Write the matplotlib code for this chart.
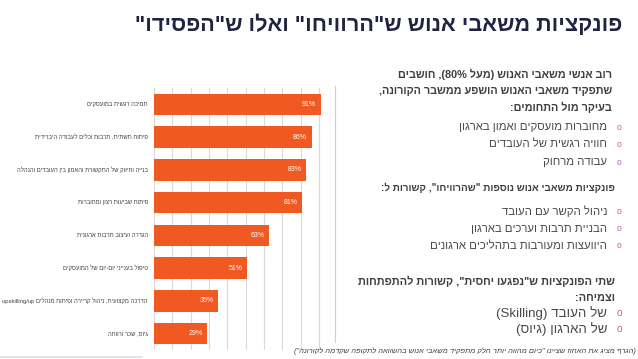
import re
import matplotlib
matplotlib.use("Agg")
import matplotlib.pyplot as plt
from matplotlib.lines import Line2D

plt.rcParams['font.family'] = ['Liberation Sans', 'DejaVu Sans']

# ---------------- data ----------------
categories = [
    "תמיכה רגשית במועסקים",
    "פיתוח תשתית, תרבות וכלים לעבודה היברידית",
    "בנייה וחיזוק של התקשורת והאמון בין העובדים והנהלה",
    "פיתוח שביעות רצון ומחוברות",
    "הגדרה ועיצוב תרבות ארגונית",
    "טיפול בענייני יום-יום של המועסקים",
    "הדרכה מקצועית, ניהול קריירה ופיתוח מנהלים upskilling/up",
    "גיוס, שכר ורווחה",
]
values = [91, 86, 83, 81, 63, 51, 35, 29]
value_labels = ["91%", "86%", "83%", "81%", "63%", "51%", "35%", "29%"]

title = 'פונקציות משאבי אנוש ש"הרוויחו" ואלו ש"הפסידו"'
sec1_header = [
    "רוב אנשי משאבי האנוש (מעל 80%), חושבים",
    "שתפקיד משאבי האנוש הושפע ממשבר הקורונה,",
    "בעיקר מול התחומים:",
]
sec1_bullets = ["מחוברות מועסקים ואמון בארגון", "חוויה רגשית של העובדים", "עבודה מרחוק"]
sec2_header = ['פונקציות משאבי אנוש נוספות "שהרוויחו", קשורות ל:']
sec2_bullets = ["ניהול הקשר עם העובד", "הבניית תרבות וערכים בארגון", "היוועצות ומעורבות בתהליכים ארגונים"]
sec3_header = ['שתי הפונקציות ש"נפגעו יחסית", קשורות להתפתחות', "וצמיחה:"]
sec3_bullets = ["של העובד (Skilling)", "של הארגון (גיוס)"]
footnote = '(הגרף מציג את האחוז שציינו "כיום מהווה יותר חלק מתפקיד משאבי אנוש בהשוואה לתקופה שקדמה לקורונה")'

# ------------- simple bidi (visual order for RTL base) -------------
MIRROR = str.maketrans('()[]{}<>', ')(][}{><')
LTR = re.compile(r'[A-Za-z0-9][A-Za-z0-9%/\.]*(?: [A-Za-z0-9][A-Za-z0-9%/\.]*)*')


def vis(s):
    out = []
    pos = 0
    for m in LTR.finditer(s):
        out.append(s[pos:m.start()][::-1].translate(MIRROR))
        out.append(m.group())
        pos = m.end()
    out.append(s[pos:][::-1].translate(MIRROR))
    return ''.join(reversed(out))


W, H = 638, 359
fig = plt.figure(figsize=(W / 100, H / 100), dpi=100)
fig.patch.set_facecolor('white')


def fx(x):
    return x / W


def fy(y):
    return 1 - y / H


# ---------------- chart ----------------
ax = fig.add_axes([fx(154), fy(350), fx(322.5) - fx(154), fy(88) - fy(350)])
n = len(values)
ypos = list(range(n))
ax.barh(ypos, values, height=0.65, color='#F05A22', zorder=3)
ax.set_xlim(0, 92)
ax.set_ylim(n - 0.5, -0.5)
for g in range(0, 100, 10):
    ax.axvline(g, color='#d9d9d9', lw=0.8, zorder=1)
for s in ax.spines.values():
    s.set_visible(False)
ax.set_xticks([])
ax.set_yticks([])
for y, v, lab in zip(ypos, values, value_labels):
    ax.text(v - 2.5, y, lab, ha='right', va='center', color='white', fontsize=5)
for y, c in zip(ypos, categories):
    ax.text(-3.3, y, vis(c), ha='right', va='center', color='#404040', fontsize=4.2,
            clip_on=False)

# ---------------- title ----------------
fig.text(fx(622), fy(25), vis(title), ha='right', va='center', fontsize=15.6,
         fontweight='bold', color='#1f2540')

# separator line
fig.add_artist(Line2D([fx(335), fx(335)], [fy(86), fy(342)], color='#d0d0d0', lw=0.8))
fig.add_artist(Line2D([fx(0), fx(142)], [fy(357), fy(357)], color='#e4d8ee', lw=1.2))

# ---------------- right text block ----------------
HDR = '#3f3f3f'
TXT = '#4a4a4a'
BUL = '#c55aa6'


def header(lines, x, y0, dy, size):
    for i, l in enumerate(lines):
        fig.text(fx(x), fy(y0 + i * dy), vis(l), ha='right', va='center', fontsize=size,
                 fontweight='bold', color=HDR)


def bullets(items, y0, dy, size, xt=607, xb=619):
    for i, b in enumerate(items):
        y = y0 + i * dy
        fig.text(fx(xb), fy(y), 'o', ha='center', va='center', fontsize=size * 0.75, color=BUL)
        fig.text(fx(xt), fy(y), vis(b), ha='right', va='center', fontsize=size, color=TXT)


header(sec1_header, 612, 74, 16.5, 7.8)
bullets(sec1_bullets, 127, 17.5, 8.2)
header(sec2_header, 615, 188, 17, 7.1)
bullets(sec2_bullets, 211, 17.5, 8.2)
header(sec3_header, 615, 281, 17, 7.9)
bullets(sec3_bullets, 313, 16.5, 9.6)

fig.text(fx(636), fy(351), vis(footnote), ha='right', va='center', fontsize=5.4,
         style='italic', color='#404040')

fig.savefig('out.png', dpi=100)
